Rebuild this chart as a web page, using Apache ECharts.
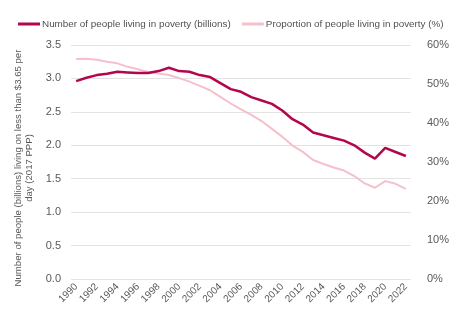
<!DOCTYPE html>
<html><head><meta charset="utf-8">
<script src="https://cdn.jsdelivr.net/npm/echarts@6/dist/echarts.min.js"></script>
<style>html,body{margin:0;padding:0;background:#fff}#c{width:474px;height:326px}</style>
</head><body><div id="c"></div>
<script>
const years = [];
for (let y = 1990; y <= 2022; y++) years.push(String(y));
const numberBillions = [2.96,3.01,3.05,3.07,3.10,3.09,3.08,3.08,3.11,3.16,3.11,3.10,3.05,3.02,2.93,2.84,2.80,2.72,2.67,2.62,2.52,2.39,2.31,2.19,2.15,2.11,2.07,2.00,1.89,1.80,1.96,1.90,1.84];
const proportionPct = [56.4,56.5,56.2,55.7,55.3,54.4,53.8,53.1,52.7,52.3,51.5,50.6,49.5,48.4,46.7,45.0,43.5,42.1,40.5,38.5,36.5,34.2,32.6,30.5,29.5,28.6,27.8,26.4,24.5,23.4,25.1,24.4,23.1];
const seriesNames = ['Number of people living in poverty (billions)','Proportion of people living in poverty (%)'];
const leftAxisName = 'Number of people (billions) living on less than $3.65 per\nday (2017 PPP)';

const font = 'Liberation Sans, Arial, sans-serif';
const chart = echarts.init(document.getElementById('c'), null, {renderer:'canvas'});
chart.setOption({
  animation:false,
  textStyle:{fontFamily:font},
  legend:{
    top:14, left:13, width:470, itemWidth:22, itemHeight:3, itemGap:11, icon:'rect',
    textStyle:{color:'#505050', fontSize:9.9, fontFamily:font, padding:[0,0,0,-3]},
    data:seriesNames
  },
  grid:{left:71, right:63, top:45, bottom:47},
  xAxis:{
    type:'category', data:years, boundaryGap:true,
    axisLine:{show:false}, axisTick:{show:false},
    axisLabel:{interval:1, rotate:45, color:'#595959', fontSize:10, margin:6, fontFamily:font}
  },
  yAxis:[{
    type:'value', min:0, max:3.5, interval:0.5,
    name:leftAxisName, nameLocation:'middle', nameGap:16, nameRotate:90,
    nameTextStyle:{color:'#595959', fontSize:9.6, fontFamily:font, align:'center', lineHeight:11, padding:[0,12,0,0]},
    axisLine:{show:false}, axisTick:{show:false},
    axisLabel:{color:'#595959', fontSize:11, margin:10, formatter:v=>v.toFixed(1)},
    splitLine:{lineStyle:{color:'#e3e3e3', width:1}}
  },{
    type:'value', min:0, max:60, interval:10,
    axisLine:{show:false}, axisTick:{show:false},
    axisLabel:{color:'#595959', fontSize:11, margin:16, formatter:v=>v+'%'},
    splitLine:{show:false}
  }],
  series:[{
    name:seriesNames[0], type:'line', yAxisIndex:0, data:numberBillions,
    symbol:'none', lineStyle:{color:'#b3064d', width:2.5}, itemStyle:{color:'#b3064d'}, z:3
  },{
    name:seriesNames[1], type:'line', yAxisIndex:1, data:proportionPct,
    symbol:'none', lineStyle:{color:'#f5c0cc', width:2}, itemStyle:{color:'#f5c0cc'}, z:2
  }]
});
</script></body></html>
